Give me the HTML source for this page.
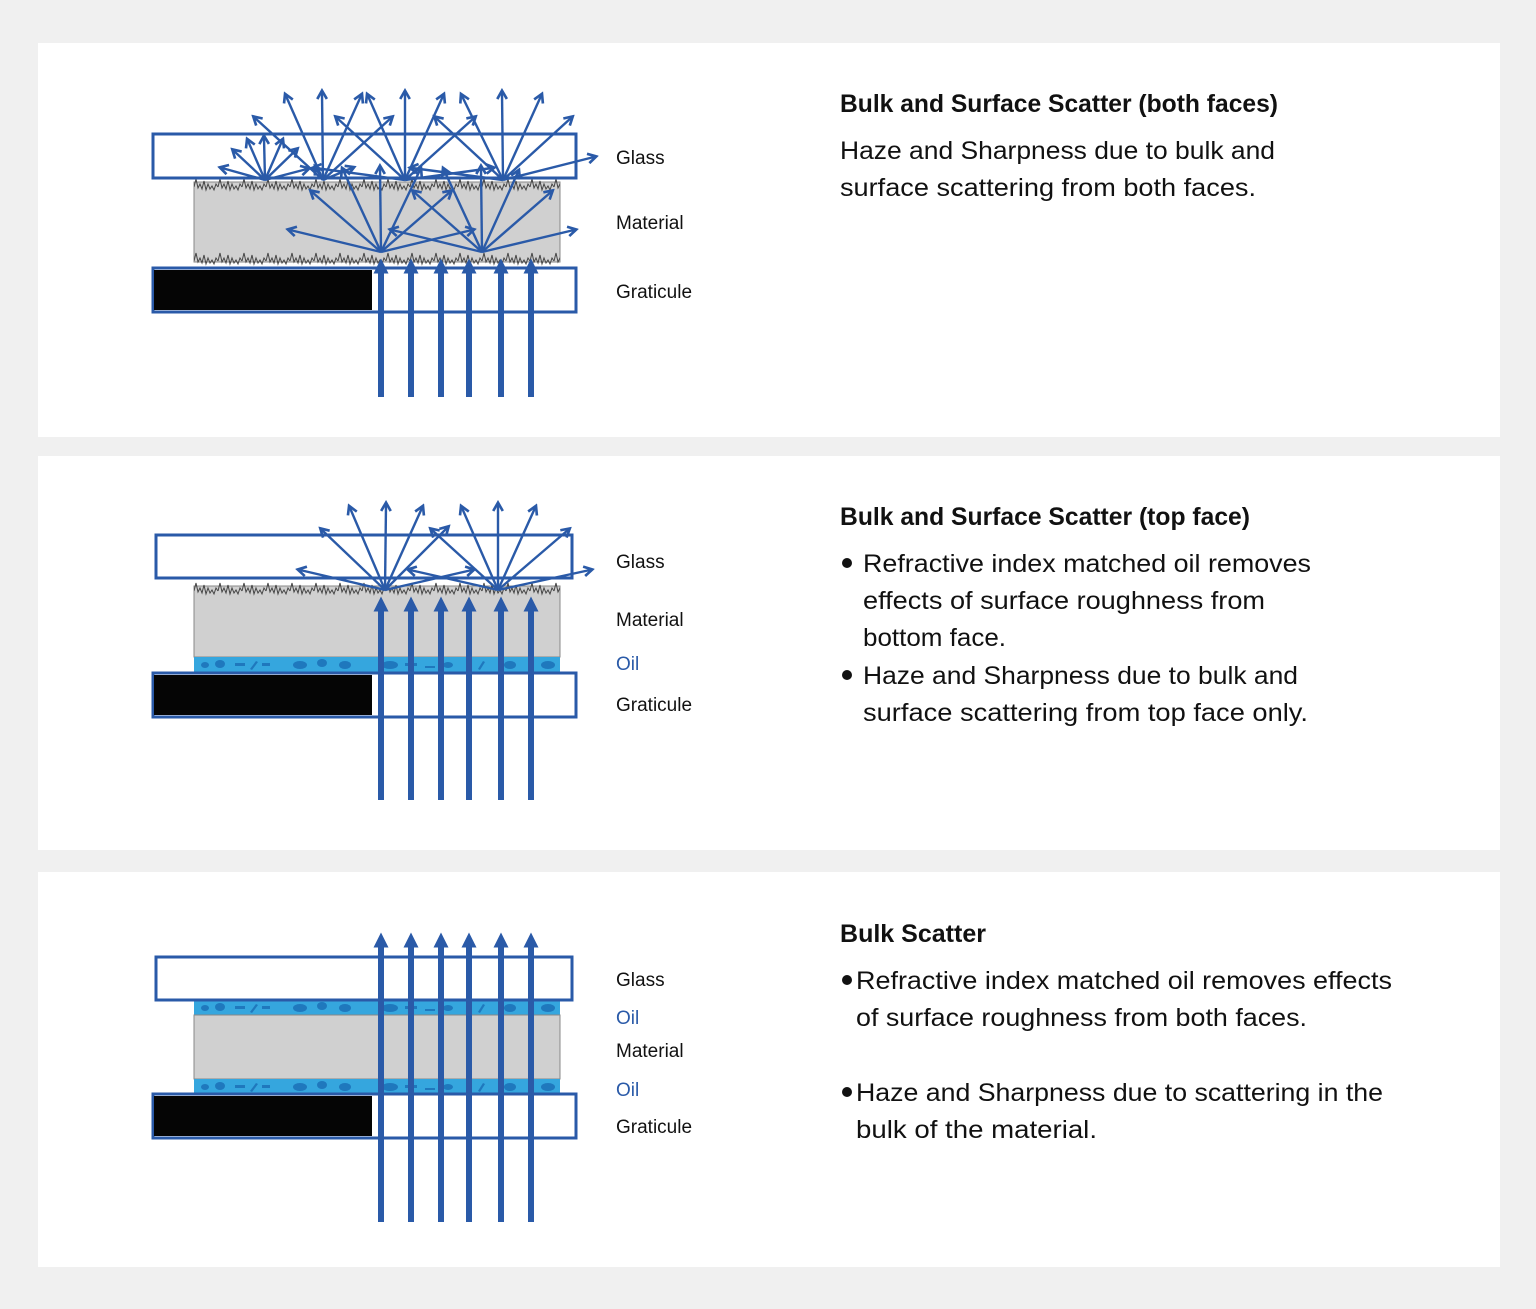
<!DOCTYPE html>
<html><head><meta charset="utf-8"><style>
html,body{margin:0;padding:0;background:#f0f0f0;}
svg{display:block;}
.t{font-family:"Liberation Sans",sans-serif;fill:#111;}
</style></head><body>
<svg width="1536" height="1309" viewBox="0 0 1536 1309" xmlns="http://www.w3.org/2000/svg">
<defs>
<marker id="a" viewBox="0 0 10 10" refX="6" refY="5" markerWidth="12" markerHeight="12" markerUnits="userSpaceOnUse" orient="auto"><path d="M1,1 L8,5 L1,9" fill="none" stroke="#2a5aa8" stroke-width="2.2"/></marker>
<marker id="b" viewBox="0 0 10 10" refX="5" refY="5" markerWidth="15" markerHeight="15" markerUnits="userSpaceOnUse" orient="auto"><path d="M0,0 L10,5 L0,10 z" fill="#2a5aa8"/></marker>
<pattern id="z1" patternUnits="userSpaceOnUse" width="24" height="14" x="194" y="178">
<path d="M0,9 l2,-8 l2,9 l2,-4 l2,5 l2,-8 l2,9 l2,-6 l2,5 l2,-3 l2,4 l2,-6 l2,3" fill="none" stroke="#444" stroke-width="1"/>
</pattern>
<pattern id="z2" patternUnits="userSpaceOnUse" width="24" height="14" x="194" y="252">
<path d="M0,9 l2,-8 l2,9 l2,-4 l2,5 l2,-8 l2,9 l2,-6 l2,5 l2,-3 l2,4 l2,-6 l2,3" fill="none" stroke="#444" stroke-width="1"/>
</pattern>
<pattern id="z3" patternUnits="userSpaceOnUse" width="24" height="14" x="194" y="582">
<path d="M0,9 l2,-8 l2,9 l2,-4 l2,5 l2,-8 l2,9 l2,-6 l2,5 l2,-3 l2,4 l2,-6 l2,3" fill="none" stroke="#444" stroke-width="1"/>
</pattern>
<g id="oil">
<rect x="194" y="0" width="366" height="15" fill="#35a6de"/>
<g fill="#1f78bd">
<ellipse cx="205" cy="8" rx="4" ry="3"/><ellipse cx="220" cy="7" rx="5" ry="4"/><rect x="235" y="6" width="10" height="3"/><path d="M250,12 l6,-8 l2,1 l-6,8z"/><rect x="262" y="6" width="8" height="3"/><ellipse cx="300" cy="8" rx="7" ry="4"/><ellipse cx="322" cy="6" rx="5" ry="4"/><ellipse cx="345" cy="8" rx="6" ry="4"/><ellipse cx="390" cy="8" rx="8" ry="4"/><rect x="405" y="6" width="12" height="3"/><rect x="425" y="9" width="10" height="2"/><ellipse cx="448" cy="8" rx="5" ry="3"/><path d="M478,12 l5,-8 l2,1 l-5,8z"/><ellipse cx="510" cy="8" rx="6" ry="4"/><ellipse cx="548" cy="8" rx="7" ry="4"/>
</g>
</g>
</defs>
<rect x="38" y="43" width="1462" height="394" fill="#fff"/>
<rect x="38" y="456" width="1462" height="394" fill="#fff"/>
<rect x="38" y="872" width="1462" height="395" fill="#fff"/>

<!-- PANEL 1 -->
<rect x="194" y="182" width="366" height="80" fill="#d0d0d0" stroke="#888" stroke-width="1"/>
<rect x="194" y="178" width="366" height="14" fill="url(#z1)"/>
<rect x="194" y="252" width="366" height="14" fill="url(#z2)"/>
<rect x="153" y="134" width="423" height="44" fill="none" stroke="#2a5aa8" stroke-width="3"/>
<rect x="153" y="268" width="423" height="44" fill="#fff" stroke="#2a5aa8" stroke-width="3"/>
<rect x="154" y="270" width="218" height="40" fill="#050505"/>
<g stroke="#2a5aa8" stroke-width="2.4" marker-end="url(#a)">
<line x1="265" y1="180" x2="222" y2="168"/><line x1="265" y1="180" x2="234" y2="151"/><line x1="265" y1="180" x2="248" y2="141"/><line x1="265" y1="180" x2="264" y2="138"/><line x1="265" y1="180" x2="282" y2="141"/><line x1="265" y1="180" x2="296" y2="150"/><line x1="265" y1="180" x2="307" y2="169"/>
<line x1="323" y1="180" x2="286" y2="96"/><line x1="323" y1="180" x2="322" y2="93"/><line x1="323" y1="180" x2="361" y2="96"/><line x1="323" y1="180" x2="255" y2="118"/><line x1="323" y1="180" x2="391" y2="118"/><line x1="323" y1="180" x2="316" y2="168"/><line x1="323" y1="180" x2="352" y2="168"/>
<line x1="405" y1="180" x2="368" y2="96"/><line x1="405" y1="180" x2="405" y2="93"/><line x1="405" y1="180" x2="443" y2="96"/><line x1="405" y1="180" x2="337" y2="118"/><line x1="405" y1="180" x2="474" y2="118"/><line x1="405" y1="180" x2="315" y2="168"/><line x1="405" y1="180" x2="492" y2="168"/>
<line x1="503" y1="180" x2="462" y2="96"/><line x1="503" y1="180" x2="502" y2="93"/><line x1="503" y1="180" x2="541" y2="96"/><line x1="503" y1="180" x2="436" y2="118"/><line x1="503" y1="180" x2="571" y2="118"/><line x1="503" y1="180" x2="594" y2="157"/><line x1="503" y1="180" x2="412" y2="168"/>
<line x1="381" y1="252" x2="290" y2="230"/><line x1="381" y1="252" x2="312" y2="192"/><line x1="381" y1="252" x2="343" y2="170"/><line x1="381" y1="252" x2="380" y2="168"/><line x1="381" y1="252" x2="420" y2="170"/><line x1="381" y1="252" x2="450" y2="192"/><line x1="381" y1="252" x2="472" y2="230"/>
<line x1="482" y1="252" x2="392" y2="230"/><line x1="482" y1="252" x2="414" y2="192"/><line x1="482" y1="252" x2="444" y2="170"/><line x1="482" y1="252" x2="481" y2="168"/><line x1="482" y1="252" x2="518" y2="172"/><line x1="482" y1="252" x2="551" y2="192"/><line x1="482" y1="252" x2="574" y2="230"/>
</g>
<g stroke="#2a5aa8" stroke-width="6" marker-end="url(#b)">
<line x1="381" y1="397" x2="381" y2="266"/><line x1="411" y1="397" x2="411" y2="266"/><line x1="441" y1="397" x2="441" y2="266"/><line x1="469" y1="397" x2="469" y2="266"/><line x1="501" y1="397" x2="501" y2="266"/><line x1="531" y1="397" x2="531" y2="266"/>
</g>
<text class="t" x="616" y="164" font-size="19">Glass</text>
<text class="t" x="616" y="229" font-size="19">Material</text>
<text class="t" x="616" y="298" font-size="19">Graticule</text>
<text class="t" x="840" y="112" font-size="25" font-weight="bold" textLength="438" lengthAdjust="spacingAndGlyphs">Bulk and Surface Scatter (both faces)</text>
<text class="t" x="840" y="159" font-size="25" textLength="435" lengthAdjust="spacingAndGlyphs">Haze and Sharpness due to bulk and</text>
<text class="t" x="840" y="196" font-size="25" textLength="416" lengthAdjust="spacingAndGlyphs">surface scattering from both faces.</text>

<!-- PANEL 2 -->
<rect x="194" y="586" width="366" height="71" fill="#d0d0d0" stroke="#888" stroke-width="1"/>
<rect x="194" y="582" width="366" height="14" fill="url(#z3)"/>
<use href="#oil" x="0" y="657"/>
<rect x="156" y="535" width="416" height="43" fill="none" stroke="#2a5aa8" stroke-width="3"/>
<rect x="153" y="673" width="423" height="44" fill="#fff" stroke="#2a5aa8" stroke-width="3"/>
<rect x="154" y="675" width="218" height="40" fill="#050505"/>
<g stroke="#2a5aa8" stroke-width="2.4" marker-end="url(#a)">
<line x1="385" y1="590" x2="300" y2="570"/><line x1="385" y1="590" x2="322" y2="530"/><line x1="385" y1="590" x2="350" y2="508"/><line x1="385" y1="590" x2="386" y2="505"/><line x1="385" y1="590" x2="422" y2="508"/><line x1="385" y1="590" x2="447" y2="528"/><line x1="385" y1="590" x2="472" y2="570"/>
<line x1="498" y1="590" x2="410" y2="570"/><line x1="498" y1="590" x2="432" y2="530"/><line x1="498" y1="590" x2="462" y2="508"/><line x1="498" y1="590" x2="498" y2="505"/><line x1="498" y1="590" x2="535" y2="508"/><line x1="498" y1="590" x2="568" y2="530"/><line x1="498" y1="590" x2="590" y2="570"/>
</g>
<g stroke="#2a5aa8" stroke-width="6" marker-end="url(#b)">
<line x1="381" y1="800" x2="381" y2="604"/><line x1="411" y1="800" x2="411" y2="604"/><line x1="441" y1="800" x2="441" y2="604"/><line x1="469" y1="800" x2="469" y2="604"/><line x1="501" y1="800" x2="501" y2="604"/><line x1="531" y1="800" x2="531" y2="604"/>
</g>
<text class="t" x="616" y="568" font-size="19">Glass</text>
<text class="t" x="616" y="626" font-size="19">Material</text>
<text x="616" y="670" font-size="19" font-family="Liberation Sans, sans-serif" fill="#2a5aa8">Oil</text>
<text class="t" x="616" y="711" font-size="19">Graticule</text>
<text class="t" x="840" y="525" font-size="25" font-weight="bold" textLength="410" lengthAdjust="spacingAndGlyphs">Bulk and Surface Scatter (top face)</text>
<circle cx="847" cy="563" r="5" fill="#111"/>
<text class="t" x="863" y="572" font-size="25" textLength="448" lengthAdjust="spacingAndGlyphs">Refractive index matched oil removes</text>
<text class="t" x="863" y="609" font-size="25" textLength="402" lengthAdjust="spacingAndGlyphs">effects of surface roughness from</text>
<text class="t" x="863" y="646" font-size="25" textLength="143" lengthAdjust="spacingAndGlyphs">bottom face.</text>
<circle cx="847" cy="675" r="5" fill="#111"/>
<text class="t" x="863" y="684" font-size="25" textLength="435" lengthAdjust="spacingAndGlyphs">Haze and Sharpness due to bulk and</text>
<text class="t" x="863" y="721" font-size="25" textLength="445" lengthAdjust="spacingAndGlyphs">surface scattering from top face only.</text>

<!-- PANEL 3 -->
<use href="#oil" x="0" y="1000"/>
<rect x="194" y="1015" width="366" height="64" fill="#d0d0d0" stroke="#888" stroke-width="1"/>
<use href="#oil" x="0" y="1079"/>
<rect x="156" y="957" width="416" height="43" fill="none" stroke="#2a5aa8" stroke-width="3"/>
<rect x="153" y="1094" width="423" height="44" fill="#fff" stroke="#2a5aa8" stroke-width="3"/>
<rect x="154" y="1096" width="218" height="40" fill="#050505"/>
<g stroke="#2a5aa8" stroke-width="6" marker-end="url(#b)">
<line x1="381" y1="1222" x2="381" y2="940"/><line x1="411" y1="1222" x2="411" y2="940"/><line x1="441" y1="1222" x2="441" y2="940"/><line x1="469" y1="1222" x2="469" y2="940"/><line x1="501" y1="1222" x2="501" y2="940"/><line x1="531" y1="1222" x2="531" y2="940"/>
</g>
<text class="t" x="616" y="986" font-size="19">Glass</text>
<text x="616" y="1024" font-size="19" font-family="Liberation Sans, sans-serif" fill="#2a5aa8">Oil</text>
<text class="t" x="616" y="1057" font-size="19">Material</text>
<text x="616" y="1096" font-size="19" font-family="Liberation Sans, sans-serif" fill="#2a5aa8">Oil</text>
<text class="t" x="616" y="1133" font-size="19">Graticule</text>
<text class="t" x="840" y="942" font-size="25" font-weight="bold" textLength="146" lengthAdjust="spacingAndGlyphs">Bulk Scatter</text>
<circle cx="847" cy="980" r="5" fill="#111"/>
<text class="t" x="856" y="989" font-size="25" textLength="536" lengthAdjust="spacingAndGlyphs">Refractive index matched oil removes effects</text>
<text class="t" x="856" y="1026" font-size="25" textLength="451" lengthAdjust="spacingAndGlyphs">of surface roughness from both faces.</text>
<circle cx="847" cy="1092" r="5" fill="#111"/>
<text class="t" x="856" y="1101" font-size="25" textLength="527" lengthAdjust="spacingAndGlyphs">Haze and Sharpness due to scattering in the</text>
<text class="t" x="856" y="1138" font-size="25" textLength="241" lengthAdjust="spacingAndGlyphs">bulk of the material.</text>
</svg>
</body></html>
